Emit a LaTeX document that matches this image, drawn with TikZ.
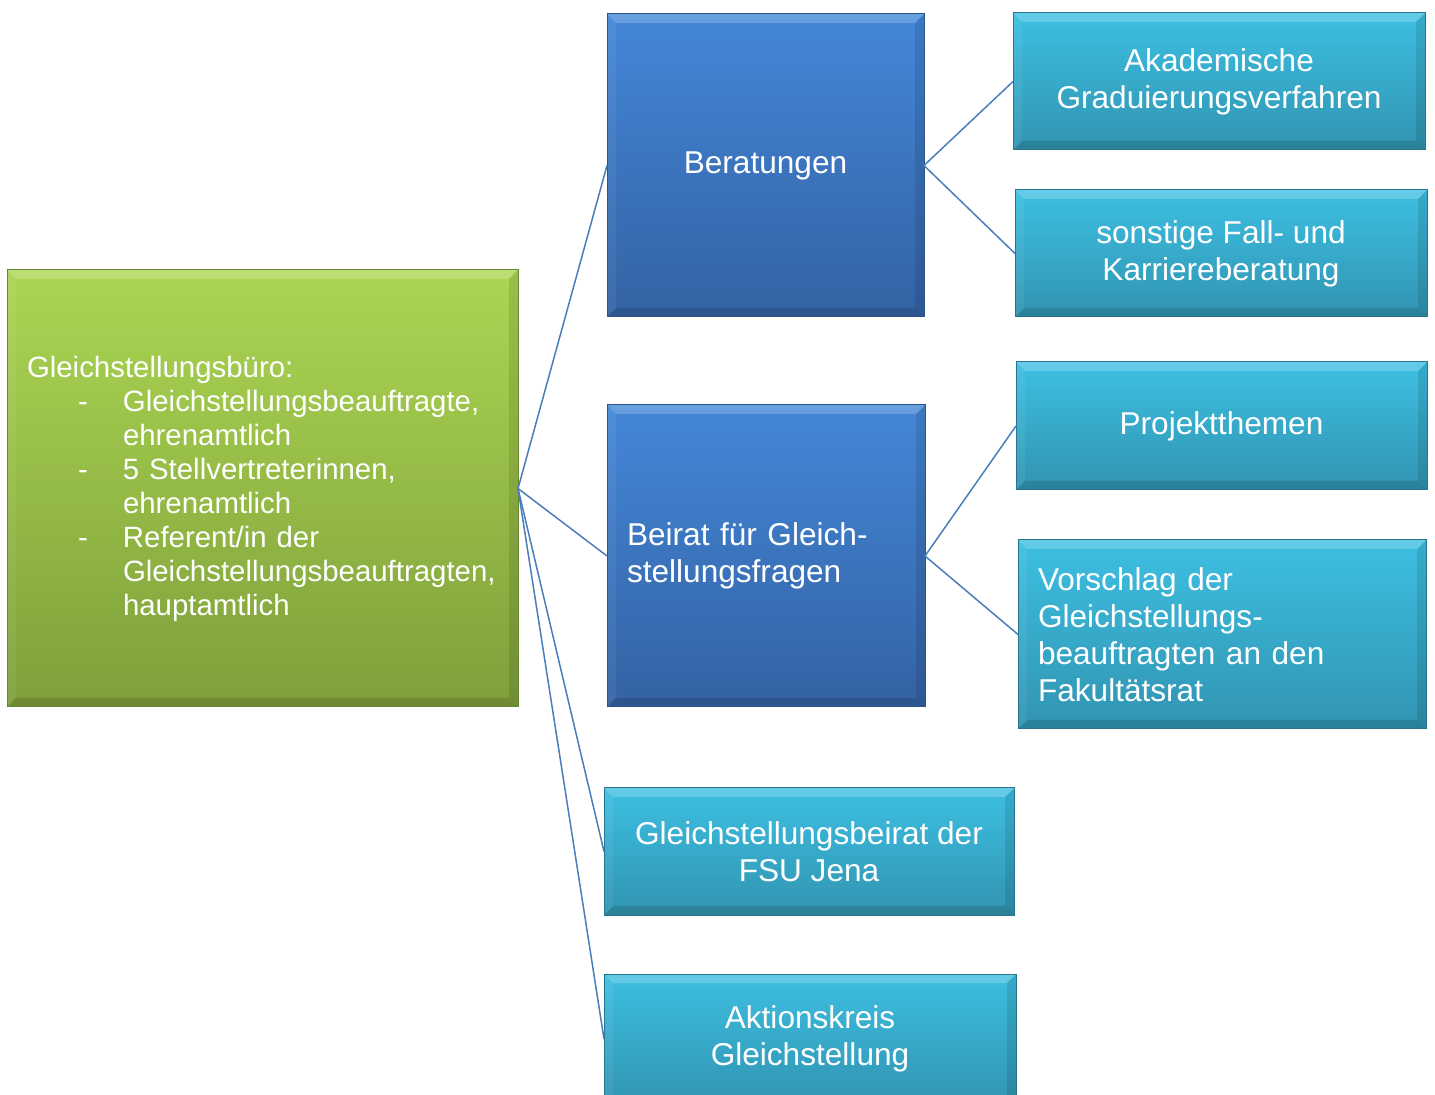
\documentclass[tikz,border=0pt]{standalone}
\usepackage{fontspec}
\setmainfont{Liberation Sans}
\usetikzlibrary{calc}
\definecolor{greenT}{HTML}{AAD652}
\definecolor{greenB}{HTML}{7F9F3B}
\definecolor{blueT}{HTML}{4387D8}
\definecolor{blueB}{HTML}{3462A3}
\definecolor{cyanT}{HTML}{3DBFE2}
\definecolor{cyanB}{HTML}{3194B1}
\definecolor{linkc}{HTML}{4A7EBB}
\tikzset{
  bevel/.style={path picture={
    \coordinate (nw) at (path picture bounding box.north west);
    \coordinate (ne) at (path picture bounding box.north east);
    \coordinate (sw) at (path picture bounding box.south west);
    \coordinate (se) at (path picture bounding box.south east);
    \fill[white,opacity=0.2] (nw) -- (ne) -- ($(ne)+(-4.5pt,-4.5pt)$) -- ($(nw)+(4.5pt,-4.5pt)$) -- cycle;
    \fill[white,opacity=0.06] (nw) -- ($(nw)+(4.5pt,-4.5pt)$) -- ($(sw)+(4.5pt,4.5pt)$) -- (sw) -- cycle;
    \fill[black,opacity=0.1] (ne) -- (se) -- ($(se)+(-4.5pt,4.5pt)$) -- ($(ne)+(-4.5pt,-4.5pt)$) -- cycle;
    \fill[black,opacity=0.13] (sw) -- (se) -- ($(se)+(-4.5pt,4.5pt)$) -- ($(sw)+(4.5pt,4.5pt)$) -- cycle;
  }},
  box/.style={rectangle, inner sep=0pt, outer sep=0pt, anchor=north west, text=white,
    font=\fontsize{15.8pt}{18.5pt}\selectfont, align=center, bevel, line width=0.5pt},
  greenbox/.style={box, top color=greenT, bottom color=greenB, draw=greenB!85!black},
  bluebox/.style={box, top color=blueT, bottom color=blueB, draw=blueB!85!black},
  cyanbox/.style={box, top color=cyanT, bottom color=cyanB, draw=cyanB!80!black},
  link/.style={draw=linkc, line width=0.75pt},
}
\begin{document}
\begin{tikzpicture}[x=0.5pt, y=-0.5pt]
\useasboundingbox (0,0) rectangle (1435,1095);
\clip (0,0) rectangle (1435,1095);
\fill[white] (0,0) rectangle (1435,1095);

\node[greenbox, minimum width=255.5pt, minimum height=218.5pt, inner xsep=10pt,
      text width=235.5pt, align=left, font=\fontsize{14.7pt}{17pt}\selectfont] (buero) at (7,270)
  {Gleichstellungsbüro:\\
   \hspace*{25.5pt}\makebox[22.5pt][l]{-}Gleichstellungsbeauftragte,\\
   \hspace*{48pt}ehrenamtlich\\
   \hspace*{25.5pt}\makebox[22.5pt][l]{-}5 Stellvertreterinnen,\\
   \hspace*{48pt}ehrenamtlich\\
   \hspace*{25.5pt}\makebox[22.5pt][l]{-}Referent/in der\\
   \hspace*{48pt}Gleichstellungsbeauftragten,\\
   \hspace*{48pt}hauptamtlich};

\node[bluebox, minimum width=158.5pt, minimum height=151.5pt] (ber) at (607,14) {Beratungen};
\node[bluebox, minimum width=159pt, minimum height=151pt, inner xsep=10pt, text width=139pt, align=left] (beirat) at (607,405)
  {Beirat für Gleich-\\stellungsfragen};

\node[cyanbox, minimum width=206pt, minimum height=68.5pt] (akad) at (1013,13)
  {Akademische\\Graduierungsverfahren};
\node[cyanbox, minimum width=206pt, minimum height=63.5pt] (sonst) at (1015,190)
  {sonstige Fall- und\\Karriereberatung};
\node[cyanbox, minimum width=205.5pt, minimum height=64pt] (proj) at (1016,362)
  {Projektthemen};
\node[cyanbox, minimum width=204pt, minimum height=94.5pt, inner xsep=10pt, text width=184pt, align=left] (vor) at (1018,540)
  {Vorschlag der\\Gleichstellungs-\\beauftragten an den\\Fakultätsrat};
\node[cyanbox, minimum width=205pt, minimum height=63.5pt] (gsb) at (604,788)
  {Gleichstellungsbeirat der\\FSU Jena};
\node[cyanbox, minimum width=206pt, minimum height=65pt] (ak) at (604,974)
  {Aktionskreis\\Gleichstellung};

\draw[link] (buero.east) -- (ber.west);
\draw[link] (buero.east) -- (beirat.west);
\draw[link] (buero.east) -- (gsb.west);
\draw[link] (buero.east) -- (ak.west);
\draw[link] (ber.east) -- (akad.west);
\draw[link] (ber.east) -- (sonst.west);
\draw[link] (beirat.east) -- (proj.west);
\draw[link] (beirat.east) -- (vor.west);
\end{tikzpicture}
\end{document}
